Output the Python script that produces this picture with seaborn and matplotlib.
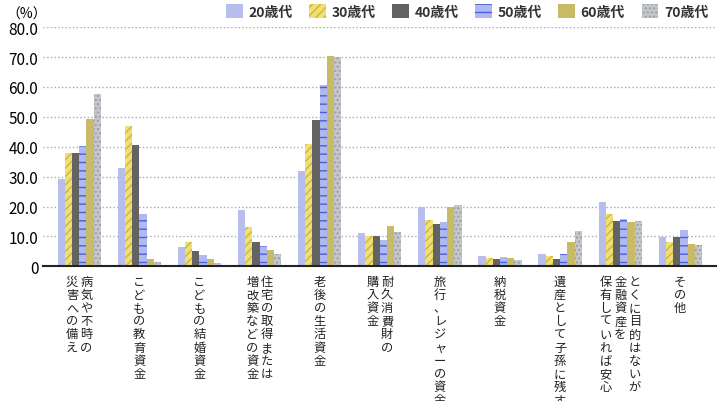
import pandas as pd
import seaborn as sns
import matplotlib.pyplot as plt
import matplotlib.transforms as mtrans

plt.rcParams['font.family'] = 'Noto Sans CJK JP'
plt.rcParams['hatch.linewidth'] = 1.0

categories = ['病気や不時の\n災害への備え', 'こどもの教育資金', 'こどもの結婚資金',
              '住宅の取得または\n増改築などの資金', '老後の生活資金', '耐久消費財の\n購入資金',
              '旅行、レジャーの資金', '納税資金', '遺産として子孫に残す',
              'とくに目的はないが、\n金融資産を\n保有していれば安心', 'その他']
ages = ['20歳代', '30歳代', '40歳代', '50歳代', '60歳代', '70歳代']
v20 = [29.2, 32.8, 6.4, 18.8, 31.8, 11.0, 19.7, 3.4, 4.0, 21.4, 9.7]
v30 = [37.8, 46.9, 8.1, 13.1, 40.9, 10.0, 15.4, 2.7, 3.4, 17.6, 8.0]
v40 = [37.8, 40.5, 5.1, 8.0, 48.8, 10.0, 14.1, 2.3, 2.3, 15.0, 9.7]
v50 = [40.2, 17.4, 3.7, 6.7, 60.8, 8.9, 14.7, 3.0, 4.0, 15.7, 12.0]
v60 = [49.2, 2.3, 2.6, 5.4, 70.5, 13.4, 20.0, 2.7, 8.3, 14.7, 7.6]
v70 = [57.8, 1.6, 1.0, 4.0, 69.9, 11.4, 20.4, 2.0, 11.7, 15.0, 7.3]

rows = []
for age, vals in zip(ages, [v20, v30, v40, v50, v60, v70]):
    for c, v in zip(categories, vals):
        rows.append({'cat': c, 'age': age, 'val': v})
df = pd.DataFrame(rows)

colors = ['#b7bdec', '#ede07a', '#636363', '#b0b8f0', '#c8bb67', '#c4c7cb']
edges = ['#b7bdec', '#d4b62a', '#636363', '#4a5ee0', '#c8bb67', '#9a9ea4']
hatches = ['', '////', '', '--', '', '....']

fig, ax = plt.subplots(figsize=(7.2, 4.02), dpi=100)
sns.barplot(data=df, x='cat', y='val', hue='age', palette=colors, ax=ax,
            width=0.72, gap=0, saturation=1, legend=True)
for i, cont in enumerate(ax.containers):
    for b in cont:
        b.set_hatch(hatches[i])
        b.set_edgecolor(edges[i])
        b.set_linewidth(0)
leg = ax.legend(ncol=6, loc='lower right', bbox_to_anchor=(1.0, 1.0), frameon=False,
                fontsize=10, handlelength=1.2, handleheight=1.2, columnspacing=1.2,
                handletextpad=0.4, borderaxespad=0.2)
for i, h in enumerate(leg.legend_handles):
    h.set_hatch(hatches[i])
    h.set_edgecolor(edges[i])
    h.set_linewidth(0)
for t in leg.get_texts():
    t.set_fontweight('bold')
    t.set_color('#333333')

ax.set_ylim(0, 80)
ax.set_yticks(range(0, 81, 10))
ax.set_yticklabels(['0'] + [f'{v:.1f}' for v in range(10, 81, 10)], fontsize=11)
ax.set_xticks(range(len(categories)))
ax.set_xticklabels([])
ax.set_xlim(-0.6, len(categories) - 0.4)
ax.set_xlabel('')
ax.set_ylabel('')
ax.yaxis.grid(True, linestyle=':', color='#aaaaaa', linewidth=1)
ax.set_axisbelow(True)
for s in ['top', 'right', 'left']:
    ax.spines[s].set_visible(False)
ax.spines['bottom'].set_color('#222222')
ax.spines['bottom'].set_linewidth(1.5)
ax.tick_params(length=0)

# vertical (tategaki) category labels, columns right to left
base = ax.get_xaxis_transform()
colw = 10.5
for i, cat in enumerate(categories):
    lines = cat.split('\n')
    n = len(lines)
    for j, line in enumerate(lines):
        dx = ((n - 1) / 2 - j) * colw
        tr = base + mtrans.ScaledTranslation(dx / 72, -6 / 72, fig.dpi_scale_trans)
        ax.text(i, 0, '\n'.join(line), transform=tr, ha='center', va='top',
                fontsize=8.8, linespacing=1.02, color='#222222')

ax.text(-0.055, 1.04, '（%）', transform=ax.transAxes, fontsize=10, ha='left')
fig.subplots_adjust(left=0.06, right=0.995, top=0.93, bottom=0.335)
fig.savefig('out.png')
